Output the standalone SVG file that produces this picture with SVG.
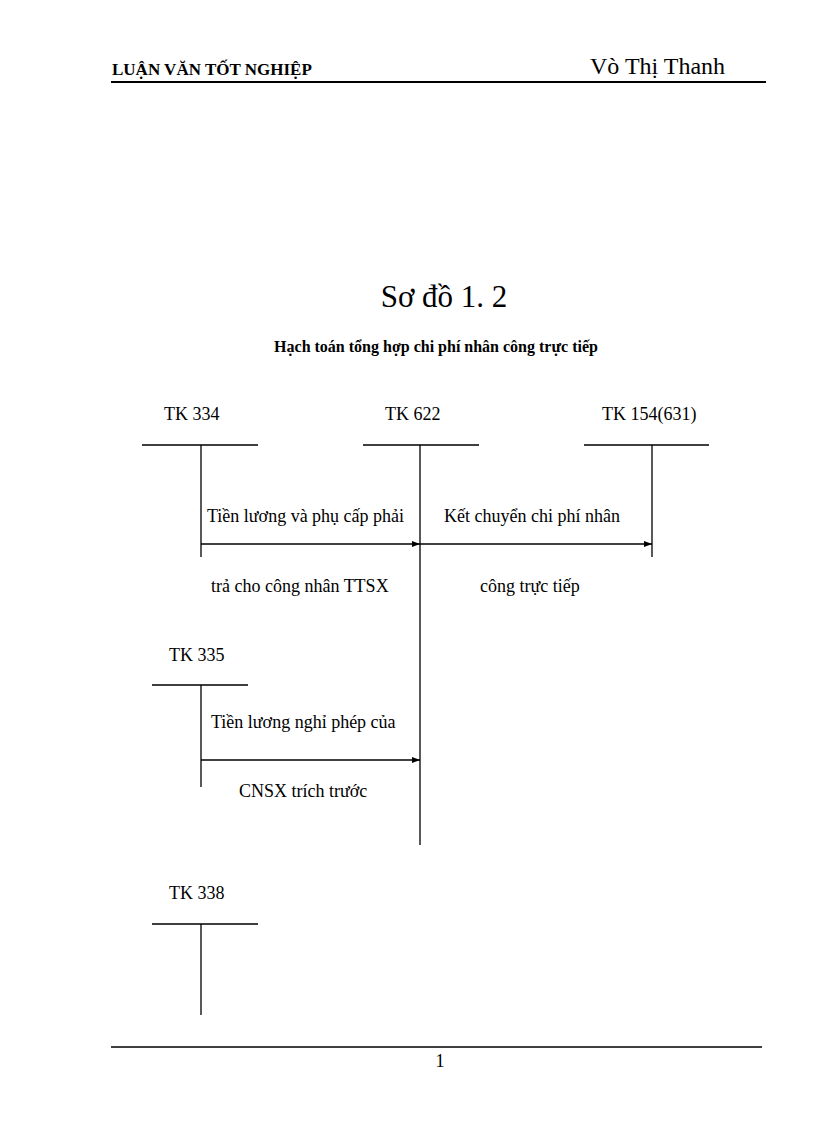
<svg xmlns="http://www.w3.org/2000/svg" width="816" height="1123" viewBox="0 0 816 1123">
<style>
text{font-family:"Liberation Serif","Times New Roman","DejaVu Serif",serif;fill:#000}
.t{font-size:18px}
.l{stroke:#000;stroke-width:1.3;fill:none}
</style>
<defs><marker id="a" markerWidth="8" markerHeight="6" refX="8" refY="3" orient="auto" markerUnits="userSpaceOnUse"><path d="M0,0L8,3L0,6z" fill="#000"/></marker></defs>
<rect width="816" height="1123" fill="#fff"/>
<text x="112" y="75" font-size="17" font-weight="bold">LUẬN VĂN TỐT NGHIỆP</text>
<text x="590" y="74" font-size="24">Vò Thị Thanh</text>
<line x1="111" y1="82" x2="766" y2="82" stroke="#000" stroke-width="2"/>
<text x="444" y="307" font-size="31" text-anchor="middle">Sơ đồ 1. 2</text>
<text x="436" y="352" font-size="16" font-weight="bold" text-anchor="middle">Hạch toán tổng hợp chi phí nhân công trực tiếp</text>
<g id="tk334"><text class="t" x="164" y="420">TK 334</text><path class="l" d="M142,445H258M201,445V557"/></g>
<g id="tk622"><text class="t" x="385" y="420">TK 622</text><path class="l" d="M363,445H479M420,445V845"/></g>
<g id="tk154"><text class="t" x="602" y="420">TK 154(631)</text><path class="l" d="M584,445H709M652,445V557"/></g>
<g id="tk335"><text class="t" x="169" y="661">TK 335</text><path class="l" d="M152,685H248M201,685V787"/></g>
<g id="tk338"><text class="t" x="169" y="899">TK 338</text><path class="l" d="M152,924H258M201,924V1015"/></g>
<g id="connectors">
<path class="l" d="M201,544H420" marker-end="url(#a)"/>
<path class="l" d="M420,544H652" marker-end="url(#a)"/>
<path class="l" d="M201,760H420" marker-end="url(#a)"/>
</g>
<text class="t" x="207" y="522">Tiền lương và phụ cấp phải</text>
<text class="t" x="211" y="592">trả cho công nhân TTSX</text>
<text class="t" x="444" y="522">Kết chuyển chi phí nhân</text>
<text class="t" x="480" y="592">công trực tiếp</text>
<text class="t" x="211" y="728">Tiền lương nghỉ phép của</text>
<text class="t" x="239" y="797">CNSX trích trước</text>
<line x1="111" y1="1047" x2="762" y2="1047" stroke="#000" stroke-width="1.3"/>
<text x="440" y="1067" font-size="18" text-anchor="middle">1</text>
</svg>
